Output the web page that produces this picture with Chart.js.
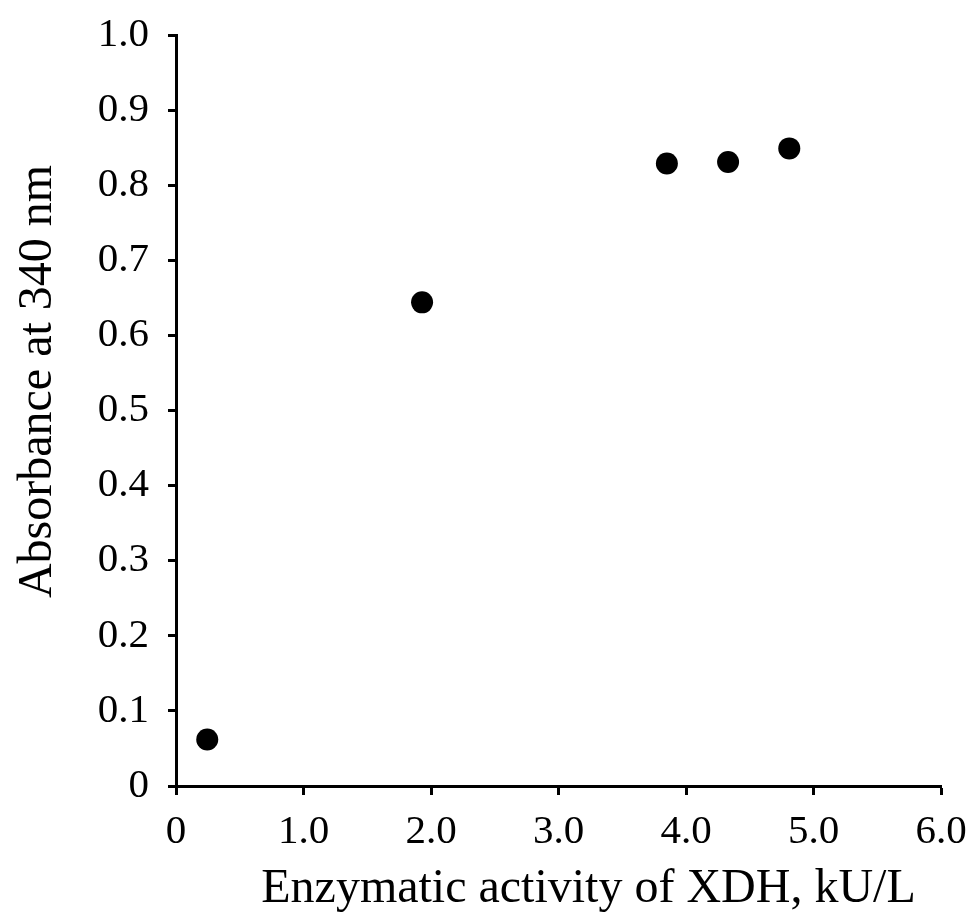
<!DOCTYPE html>
<html>
<head>
<meta charset="utf-8">
<script src="https://cdn.jsdelivr.net/npm/chart.js@4"></script>
<style>
html,body{margin:0;padding:0;background:#fff;}
#wrap{width:972px;height:914px;position:relative;}
</style>
</head>
<body>
<div id="wrap"><canvas id="c" width="972" height="914"></canvas></div>
<script>
const activity = [0.245, 1.93, 3.85, 4.33, 4.81];
const absorbance = [0.062, 0.644, 0.829, 0.831, 0.849];
const xTitle = "Enzymatic activity of XDH, kU/L";
const yTitle = "Absorbance at 340 nm";

const FONT = '"Liberation Serif", "Times New Roman", serif';

const titlePlugin = {
  id: 'axisTitles',
  afterDraw(chart) {
    const ctx = chart.ctx;
    const ca = chart.chartArea;
    ctx.save();
    ctx.fillStyle = '#000';
    ctx.font = '48px ' + FONT;
    ctx.textAlign = 'center';
    ctx.textBaseline = 'alphabetic';
    ctx.fillText(xTitle, (ca.left + ca.right) / 2 + 30, 902);
    ctx.translate(51, (ca.top + ca.bottom) / 2 - 29);
    ctx.rotate(-Math.PI / 2);
    ctx.fillText(yTitle, 0, 0);
    ctx.restore();
  }
};

new Chart(document.getElementById('c'), {
  type: 'scatter',
  data: {
    datasets: [{
      data: activity.map((x, i) => ({x: x, y: absorbance[i]})),
      backgroundColor: '#000',
      borderColor: '#000',
      borderWidth: 0,
      pointRadius: 11,
      pointHoverRadius: 11
    }]
  },
  options: {
    responsive: false,
    animation: false,
    layout: {padding: {top: 35, right: 31, left: 0, bottom: 0}},
    plugins: {legend: {display: false}, tooltip: {enabled: false}},
    scales: {
      x: {
        type: 'linear', min: 0, max: 6,
        afterFit(s) { s.height = 128; s.paddingLeft = 0; s.paddingRight = 0; },
        border: {display: true, color: '#000', width: 3},
        grid: {drawOnChartArea: false, drawTicks: true, tickLength: 9, tickWidth: 3, tickColor: '#000'},
        ticks: {
          stepSize: 1, color: '#000', padding: 13,
          font: {family: FONT, size: 41},
          callback: v => v === 0 ? '0' : v.toFixed(1)
        }
      },
      y: {
        type: 'linear', min: 0, max: 1,
        afterFit(s) { s.width = 176; s.paddingTop = 0; s.paddingBottom = 0; },
        border: {display: true, color: '#000', width: 3},
        grid: {drawOnChartArea: false, drawTicks: true, tickLength: 8, tickWidth: 3, tickColor: '#000'},
        ticks: {
          stepSize: 0.1, color: '#000', padding: 19,
          font: {family: FONT, size: 41},
          callback: v => Math.abs(v) < 1e-9 ? '0' : v.toFixed(1)
        }
      }
    }
  },
  plugins: [titlePlugin]
});
</script>
</body>
</html>
